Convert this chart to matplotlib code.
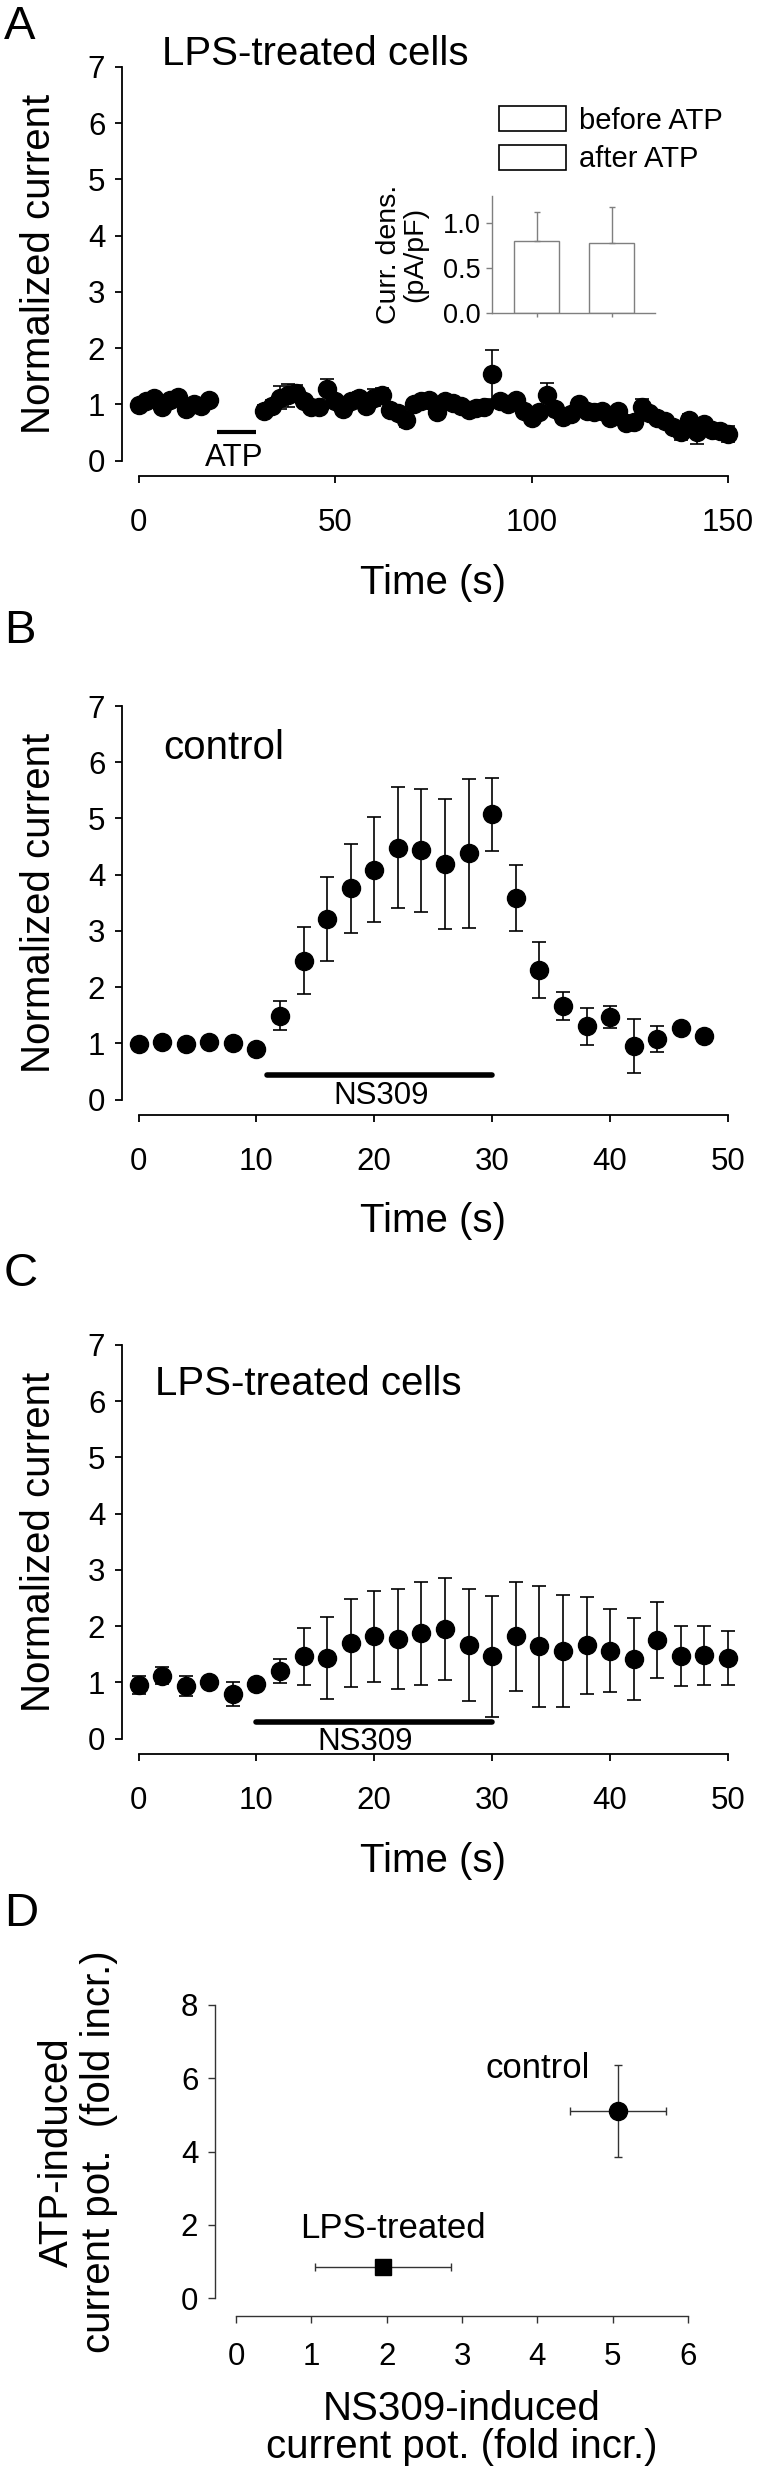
import matplotlib
matplotlib.use('Agg')
import matplotlib.pyplot as plt
from matplotlib.patches import Patch

plt.rcParams['font.family'] = ['Liberation Sans', 'DejaVu Sans']

W, H = 757, 2481

# ---- panel A: LPS-treated cells, ATP ----
a_time = [0, 2, 4, 6, 8, 10, 12, 14, 16, 18,
          32, 34, 36, 38, 40, 42, 44, 46, 48, 50, 52, 54, 56, 58, 60,
          62, 64, 66, 68, 70, 72, 74, 76, 78, 80, 82, 84, 86, 88, 90,
          92, 94, 96, 98, 100, 102, 104, 106, 108, 110, 112, 114, 116, 118, 120,
          122, 124, 126, 128, 130, 132, 134, 136, 138, 140, 142, 144, 146, 148, 150]
a_mean = [0.98, 1.05, 1.12, 0.95, 1.07, 1.13, 0.92, 1.0, 0.97, 1.07,
          0.88, 0.97, 1.12, 1.16, 1.2, 1.05, 0.95, 0.95, 1.27, 1.05, 0.92, 1.05, 1.12, 0.97, 1.12,
          1.17, 0.9, 0.85, 0.72, 1.0, 1.05, 1.08, 0.87, 1.06, 1.02, 0.97, 0.9, 0.93, 0.95, 1.53,
          1.05, 1.0, 1.08, 0.88, 0.75, 0.86, 1.17, 0.92, 0.78, 0.82, 1.0, 0.88, 0.86, 0.88, 0.75,
          0.88, 0.66, 0.68, 0.95, 0.85, 0.75, 0.7, 0.6, 0.5, 0.72, 0.5, 0.65, 0.55, 0.52, 0.47]
a_err = [0.06, 0.06, 0.06, 0.06, 0.06, 0.06, 0.06, 0.06, 0.06, 0.06,
         0.1, 0.1, 0.2, 0.2, 0.15, 0.08, 0.08, 0.08, 0.18, 0.08, 0.08, 0.08, 0.1, 0.1, 0.15,
         0.12, 0.1, 0.08, 0.12, 0.08, 0.1, 0.1, 0.12, 0.08, 0.08, 0.08, 0.08, 0.08, 0.12, 0.44,
         0.08, 0.08, 0.08, 0.1, 0.08, 0.08, 0.2, 0.08, 0.08, 0.08, 0.1, 0.08, 0.08, 0.08, 0.08,
         0.08, 0.08, 0.08, 0.15, 0.08, 0.08, 0.08, 0.08, 0.14, 0.1, 0.2, 0.1, 0.1, 0.12, 0.14]
atp_on = [20, 30]

# inset: current density
inset_labels = ['before ATP', 'after ATP']
inset_mean = [0.80, 0.78]
inset_err = [0.32, 0.39]

# ---- panel B: control, NS309 ----
b_time = [0, 2, 4, 6, 8, 10, 12, 14, 16, 18, 20, 22, 24,
          26, 28, 30, 32, 34, 36, 38, 40, 42, 44, 46, 48]
b_mean = [0.99, 1.03, 0.98, 1.02, 1.0, 0.9, 1.49, 2.47, 3.21, 3.76, 4.09, 4.48, 4.43,
          4.19, 4.38, 5.07, 3.59, 2.3, 1.66, 1.3, 1.47, 0.95, 1.08, 1.27, 1.13]
b_err = [0.05, 0.05, 0.05, 0.05, 0.05, 0.05, 0.26, 0.6, 0.75, 0.79, 0.93, 1.08, 1.1,
         1.16, 1.33, 0.65, 0.59, 0.5, 0.25, 0.33, 0.19, 0.48, 0.23, 0.07, 0.06]
b_ns309 = [10.9, 30]

# ---- panel C: LPS-treated cells, NS309 ----
c_time = [0, 2, 4, 6, 8, 10, 12, 14, 16, 18, 20, 22, 24,
          26, 28, 30, 32, 34, 36, 38, 40, 42, 44, 46, 48, 50]
c_mean = [0.95, 1.12, 0.93, 1.0, 0.79, 0.97, 1.2, 1.46, 1.44, 1.7, 1.82, 1.77, 1.87,
          1.95, 1.66, 1.46, 1.82, 1.64, 1.56, 1.66, 1.56, 1.41, 1.75, 1.47, 1.48, 1.44]
c_err = [0.16, 0.15, 0.18, 0.06, 0.22, 0.06, 0.22, 0.5, 0.73, 0.78, 0.81, 0.89, 0.92,
         0.91, 1.0, 1.07, 0.97, 1.08, 1.0, 0.86, 0.74, 0.73, 0.68, 0.53, 0.52, 0.48]
c_ns309 = [10, 30]

# ---- panel D: NS309 vs ATP potentiation ----
d_groups = ['control', 'LPS-treated']
d_ns309 = [5.07, 1.95]
d_ns309_err = [0.64, 0.9]
d_atp = [5.1, 0.85]
d_atp_err = [1.25, 0.0]


def rect(left, top, right, bottom):
    return [left / W, 1 - bottom / H, (right - left) / W, (bottom - top) / H]


def fy(y):
    return 1 - y / H


TICK = 22.5
LAB = 29

fig = plt.figure(figsize=(W / 100, H / 100), dpi=100)


def time_axes(top, zero, xmax, tick_step):
    # detached axes like the SigmaPlot original
    unit = (zero - top) / 7.0
    spine = zero + 15.5
    ax = fig.add_axes(rect(122, top, 728, spine))
    xpx = (728 - 138.5) / xmax
    ax.set_xlim(-(138.5 - 122) / xpx, xmax)
    ax.set_ylim(-(spine - zero) / unit, 7)
    for s in ['top', 'right']:
        ax.spines[s].set_visible(False)
    ax.spines['left'].set_bounds(0, 7)
    ax.spines['bottom'].set_bounds(0, xmax)
    for s in ['left', 'bottom']:
        ax.spines[s].set_linewidth(1.3)
    ax.set_yticks(range(8))
    ax.set_xticks(range(0, xmax + 1, tick_step))
    ax.tick_params(direction='out', length=5, width=1.3, labelsize=TICK)
    ax.tick_params(axis='y', pad=7)
    ax.tick_params(axis='x', pad=18)
    fig.text(39 / W, fy((top + zero) / 2), 'Normalized current', rotation=90,
             ha='center', va='center', fontsize=LAB)
    fig.text(433 / W, fy(zero + 122), 'Time (s)', ha='center', va='center', fontsize=LAB)
    return ax


ebkw = dict(fmt='o', color='black', ms=13, capsize=5, elinewidth=1.2,
            capthick=1.2, clip_on=False)

# A
axA = time_axes(67, 460.5, 150, 50)
axA.errorbar(a_time, a_mean, yerr=a_err, **ebkw)
axA.plot(atp_on, [0.5, 0.5], color='black', lw=3, solid_capstyle='butt')
axA.text(24.4, 0.04, 'ATP', ha='center', va='center', fontsize=TICK)
axA.text(6.0, 7.23, 'LPS-treated cells', ha='left', va='center', fontsize=LAB, clip_on=False)
fig.text(4 / W, fy(27), 'A', ha='left', va='center', fontsize=34)

# inset in A
axI = fig.add_axes(rect(491.7, 195.7, 655, 313.3))
axI.bar([1, 2], inset_mean, width=0.6, color='white', edgecolor='#7f7f7f', linewidth=1)
axI.errorbar([1, 2], inset_mean, yerr=[[0, 0], inset_err], fmt='none',
             ecolor='#7f7f7f', elinewidth=1, capsize=2, capthick=1)
axI.set_xlim(0.4, 2.58)
axI.set_ylim(0, 1.3)
for s in ['top', 'right']:
    axI.spines[s].set_visible(False)
for s in ['left', 'bottom']:
    axI.spines[s].set_color('#7f7f7f')
    axI.spines[s].set_linewidth(1)
axI.set_yticks([0, 0.5, 1.0])
axI.set_yticklabels(['0.0', '0.5', '1.0'])
axI.set_xticks([1, 2])
axI.set_xticklabels([])
axI.tick_params(direction='out', length=4, width=1, color='#7f7f7f', labelsize=19.5)
axI.tick_params(axis='x', length=3)
axI.tick_params(axis='y', pad=4)
fig.text(402 / W, fy(254), 'Curr. dens.\n(pA/pF)', rotation=90, ha='center',
         va='center', fontsize=20.5, linespacing=1.0)

handles = [Patch(facecolor='white', edgecolor='black', linewidth=1.2) for _ in inset_labels]
fig.legend(handles, inset_labels, loc='upper left', bbox_to_anchor=(499 / W, fy(106)),
           frameon=False, fontsize=21, handlelength=2.3, handleheight=0.95,
           handletextpad=0.45, labelspacing=0.35, borderpad=0, borderaxespad=0)

# B
axB = time_axes(706, 1099.5, 50, 10)
axB.errorbar(b_time, b_mean, yerr=b_err, **ebkw)
axB.plot(b_ns309, [0.44, 0.44], color='black', lw=4, solid_capstyle='round')
axB.text(20.6, 0.06, 'NS309', ha='center', va='center', fontsize=TICK)
axB.text(2.1, 6.25, 'control', ha='left', va='center', fontsize=LAB)
fig.text(4 / W, fy(631), 'B', ha='left', va='center', fontsize=34)

# C
axC = time_axes(1345, 1738.5, 50, 10)
axC.errorbar(c_time, c_mean, yerr=c_err, **ebkw)
axC.plot(c_ns309, [0.29, 0.29], color='black', lw=4, solid_capstyle='round')
axC.text(19.2, -0.07, 'NS309', ha='center', va='center', fontsize=TICK)
axC.text(1.4, 6.3, 'LPS-treated cells', ha='left', va='center', fontsize=LAB)
fig.text(4 / W, fy(1274), 'C', ha='left', va='center', fontsize=34)

# D
d_top, d_zero, d_spine = 2005, 2298, 2316
axD = fig.add_axes(rect(215, d_top, 688, d_spine))
d_unit = (d_zero - d_top) / 8.0
axD.set_xlim(-(236 - 215) / ((688 - 236) / 6.0), 6)
axD.set_ylim(-(d_spine - d_zero) / d_unit, 8)
for s in ['top', 'right']:
    axD.spines[s].set_visible(False)
axD.spines['left'].set_bounds(0, 8)
axD.spines['bottom'].set_bounds(0, 6)
for s in ['left', 'bottom']:
    axD.spines[s].set_color('#333333')
    axD.spines[s].set_linewidth(1)
axD.set_yticks([0, 2, 4, 6, 8])
axD.set_xticks(range(7))
axD.tick_params(direction='out', length=5, width=1, color='#333333', labelsize=TICK)
axD.tick_params(axis='y', pad=7)
axD.tick_params(axis='x', pad=14)
markers = ['o', 's']
sizes = [13, 11.5]
for i in range(len(d_groups)):
    axD.errorbar(d_ns309[i], d_atp[i], xerr=d_ns309_err[i], yerr=d_atp_err[i],
                 fmt=markers[i], color='black', ecolor='#333333', ms=sizes[i],
                 elinewidth=1, capsize=3, capthick=1)
axD.text(4.0, 6.26, d_groups[0], ha='center', va='center', fontsize=25)
axD.text(2.08, 1.89, d_groups[1], ha='center', va='center', fontsize=25)
fig.text(4 / W, fy(1914), 'D', ha='left', va='center', fontsize=34)
fig.text(78 / W, fy(2152), 'ATP-induced\ncurrent pot.  (fold incr.)', rotation=90,
         ha='center', va='center', multialignment='center', fontsize=LAB, linespacing=1.15)
fig.text(462 / W, fy(2428), 'NS309-induced\ncurrent pot. (fold incr.)', ha='center',
         va='center', multialignment='center', fontsize=LAB, linespacing=1.0)

fig.savefig('out.png', dpi=100)
